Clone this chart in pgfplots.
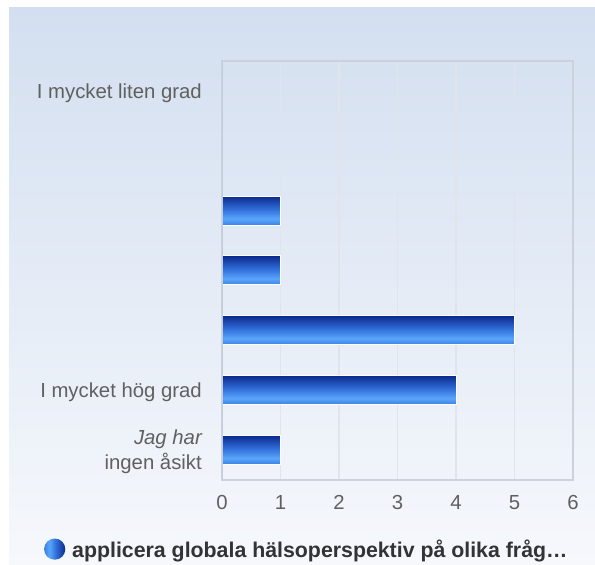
\documentclass[border=0pt]{standalone}
\usepackage{fontspec}
\setmainfont{Liberation Sans}
\usepackage{pgfplots}
\pgfplotsset{compat=1.18}
\definecolor{bgtop}{HTML}{D3DFF0}
\definecolor{bgbot}{HTML}{F6F8FC}
\definecolor{gridc}{HTML}{E1E5EB}
\definecolor{framec}{HTML}{CCD2DC}
\definecolor{leftc}{HTML}{C2CCDC}
\definecolor{labc}{HTML}{606060}
\definecolor{legc}{HTML}{333333}
\definecolor{bartop}{HTML}{0C2A8C}
\definecolor{barmid}{HTML}{3270DC}
\definecolor{barlight}{HTML}{5AA6FA}
\definecolor{barbot}{HTML}{3A80E2}
\pgfdeclareverticalshading{barshade}{100bp}{color(0bp)=(barbot); color(25bp)=(barbot); color(36bp)=(barlight); color(52bp)=(barmid); color(75bp)=(bartop); color(100bp)=(bartop)}
\pgfdeclarehorizontalshading{ballshade}{100bp}{color(0bp)=(barbot); color(25bp)=(barbot); color(38bp)=(barlight); color(52bp)=(barmid); color(75bp)=(bartop); color(100bp)=(bartop)}
\begin{document}
\begin{tikzpicture}
\path[fill=white] (0,0) rectangle (595bp,565bp);
\shade[top color=bgtop, bottom color=bgbot] (9bp,0) rectangle (595bp,557bp);
\begin{axis}[
  at={(222bp,85bp)}, anchor=south west,
  scale only axis, width=351bp, height=419bp,
  xmin=0, xmax=6, ymin=-0.5, ymax=6.5,
  xtick={0,...,6},
  ytick={0,1,6},
  yticklabels={{{\itshape Jag har}\\ingen åsikt}, I mycket hög grad, I mycket liten grad},
  major tick length=0pt,
  xmajorgrids, grid style={gridc, line width=1.2bp},
  axis line style={framec, line width=1.5bp},
  /pgf/number format/assume math mode=true,
  tick label style={labc, font=\fontsize{20.4}{25}\selectfont},
  yticklabel style={align=right, inner sep=0pt, xshift=-20bp, yshift=-2bp},
  xticklabel style={inner sep=0pt, text height=14.5bp, text depth=0pt, yshift=-15bp},
  legend style={draw=none, fill=none, at={(0.241,-0.165)}, anchor=center,
    font=\bfseries\fontsize{21.4}{24}\selectfont, text=legc},
  legend image code/.code={\path (-10.5bp,0) -- (15bp,0); \shade[draw=none, shading=ballshade] (0,0) circle (10.6bp);},
]
\addplot[xbar, bar width=29bp, bar shift=0pt, draw=white, line width=1bp, mark=none, shade, shading=barshade] coordinates {(1,4)};
\addlegendentry{applicera globala hälsoperspektiv på olika fråg…}
\addplot[forget plot, xbar, bar width=29bp, bar shift=0pt, draw=white, line width=1bp, mark=none, shade, shading=barshade] coordinates {(1,3)};
\addplot[forget plot, xbar, bar width=29bp, bar shift=0pt, draw=white, line width=1bp, mark=none, shade, shading=barshade] coordinates {(5,2)};
\addplot[forget plot, xbar, bar width=29bp, bar shift=0pt, draw=white, line width=1bp, mark=none, shade, shading=barshade] coordinates {(4,1)};
\addplot[forget plot, xbar, bar width=29bp, bar shift=0pt, draw=white, line width=1bp, mark=none, shade, shading=barshade] coordinates {(1,0)};
\draw[leftc, line width=2.2bp] (axis cs:0,-0.5) -- (axis cs:0,6.5);
\end{axis}
\end{tikzpicture}
\end{document}
